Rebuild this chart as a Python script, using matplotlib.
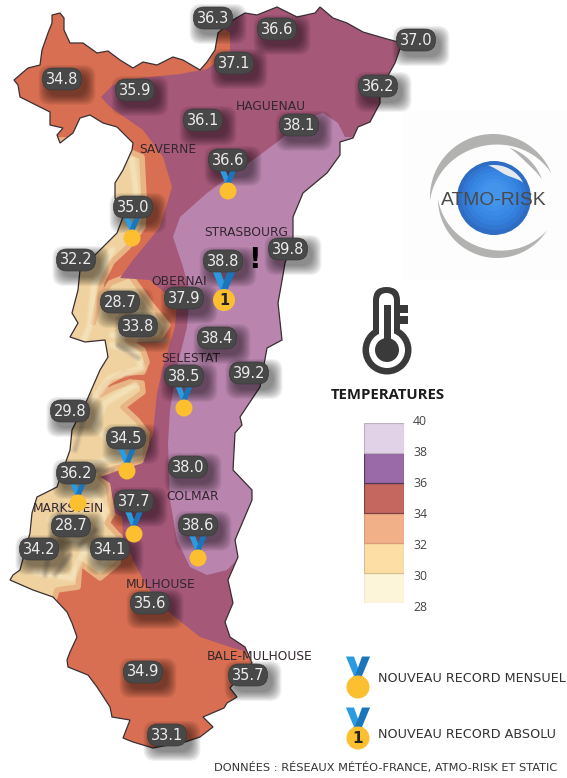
import numpy as np
import matplotlib
matplotlib.use("Agg")
import matplotlib.pyplot as plt
from matplotlib.patches import Polygon, Circle, FancyBboxPatch, Rectangle

values = ["36.3", "36.6", "37.0", "34.8", "35.9", "37.1", "36.2", "36.1", "38.1", "36.6", "35.0",
          "32.2", "38.8", "39.8", "37.9", "28.7", "33.8", "38.4", "39.2", "38.5", "29.8", "34.5",
          "38.0", "36.2", "37.7", "28.7", "38.6", "34.2", "34.1", "35.6", "34.9", "35.7", "33.1"]
values_x = [213, 277, 416, 62, 135, 234, 378, 203, 299, 228, 133, 76, 223, 288, 184, 120, 138, 217,
            249, 184, 70, 126, 188, 76, 134, 71, 198, 39, 110, 150, 143, 248, 167]
values_y = [18, 29, 40, 79, 90, 63, 86, 120, 125, 160, 207, 260, 261, 249, 298, 302, 326, 338,
            373, 376, 411, 438, 467, 473, 501, 526, 525, 549, 549, 603, 672, 675, 735]

cities = ["HAGUENAU", "SAVERNE", "STRASBOURG", "OBERNAI", "SELESTAT", "COLMAR", "MARKSTEIN", "MULHOUSE", "BALE-MULHOUSE"]
cities_x = [271, 168, 246, 179, 191, 193, 68, 161, 260]
cities_y = [106, 149, 232, 281, 358, 496, 509, 584, 657]

# medailles : x, y, record absolu ou non
medals_x = [228, 132, 224, 184, 127, 78, 134, 198]
medals_y = [191, 238, 300, 408, 471, 503, 534, 558]
medals_abs = [False, False, True, False, False, False, False, False]

levels = [28, 30, 32, 34, 36, 38]
level_colors = ["#fdf5da", "#fddfa6", "#f2b088", "#c6675f", "#9a6aa8", "#e1d2e8"]
level_edges = ["#efe8d0", "#d9bf90", "#d99c78", "#7a4444", "#4f3a5c", "#bdb0c5"]
level_ticks = [28, 30, 32, 34, 36, 38, 40]

outline = [(52, 15), (60, 13), (64, 18), (64, 30), (70, 43), (83, 43), (97, 53), (108, 51), (120, 60), (133, 68),
           (143, 62), (157, 65), (173, 57), (183, 60), (200, 70), (207, 62), (215, 50), (218, 33), (233, 20),
           (245, 13), (257, 15), (277, 7), (297, 17), (315, 13), (320, 7), (333, 18), (347, 23), (363, 32),
           (387, 39), (402, 43), (395, 63), (380, 90), (380, 103), (370, 122), (358, 127), (353, 138), (340, 142),
           (340, 155), (327, 173), (303, 193), (293, 217), (293, 240), (285, 263), (283, 275), (278, 303),
           (282, 340), (267, 348), (260, 387), (240, 417), (242, 425), (235, 433), (233, 470), (252, 490),
           (252, 500), (235, 540), (238, 557), (228, 580), (233, 603), (225, 622), (230, 637), (245, 647),
           (252, 663), (230, 688), (237, 697), (227, 703), (224, 708), (203, 717), (213, 727), (200, 737),
           (185, 742), (153, 748), (133, 742), (123, 738), (130, 720), (112, 717), (110, 707), (97, 687),
           (88, 675), (68, 667), (67, 660), (70, 652), (77, 637), (72, 623), (67, 612), (53, 597), (33, 590),
           (10, 580), (13, 575), (20, 570), (30, 533), (32, 513), (37, 497), (57, 487), (70, 450), (72, 430),
           (87, 400), (100, 370), (108, 357), (105, 340), (85, 342), (70, 337), (78, 323), (72, 313), (78, 290),
           (80, 270), (97, 253), (117, 233), (123, 217), (115, 198), (115, 183), (123, 170), (132, 150),
           (133, 143), (117, 127), (103, 123), (90, 115), (80, 118), (73, 133), (60, 143), (57, 135), (63, 128),
           (50, 125), (50, 112), (20, 97), (18, 85), (14, 80), (28, 68), (40, 65), (42, 50), (48, 33), (52, 23)]

zone_tan = [(120, 140), (131, 152), (142, 157), (144, 197), (143, 227), (128, 247), (112, 262), (102, 282), (93, 323),
            (100, 300), (110, 283), (130, 275), (150, 303), (168, 325), (160, 338), (127, 340), (143, 350),
            (147, 362), (143, 372), (125, 373), (107, 383), (100, 395), (113, 388), (130, 382), (142, 383),
            (143, 392), (123, 407), (137, 420), (147, 433), (145, 460), (110, 470), (100, 477), (108, 485),
            (110, 500), (113, 513), (107, 523), (120, 537), (118, 563), (100, 578), (80, 563), (78, 587),
            (57, 590), (53, 603), (0, 600), (0, 140)]

zone_purple = [(101, 97), (113, 85), (140, 78), (180, 74), (207, 69), (230, 52), (230, 33), (223, 28), (225, 0),
               (430, 0), (430, 653), (253, 653), (233, 648), (200, 637), (170, 613), (147, 587), (133, 560),
               (123, 537), (122, 517), (115, 513), (113, 500), (110, 483), (102, 478), (100, 477), (143, 463),
               (153, 433), (157, 393), (163, 367), (175, 327), (177, 303), (150, 280), (120, 278), (133, 260),
               (160, 227), (172, 187), (163, 157), (143, 130), (110, 107)]

zone_light = [(323, 113), (338, 123), (345, 137), (430, 137), (430, 557), (240, 557), (227, 570), (207, 575),
              (190, 567), (177, 540), (170, 500), (168, 443), (170, 410), (177, 367), (187, 327), (190, 293),
              (183, 267), (173, 237), (180, 217), (207, 193), (253, 160), (280, 140), (303, 120)]

# reliefs clairs et sombres des Vosges
ridges_light = [[(132, 160), (136, 190), (134, 222)], [(112, 250), (94, 285), (90, 325), (84, 340)],
                [(115, 305), (135, 310), (155, 325), (145, 335), (112, 335)], [(112, 345), (135, 352), (142, 368), (110, 378), (93, 400)],
                [(135, 385), (105, 403), (95, 425), (120, 455), (90, 465)], [(70, 490), (92, 492), (105, 510), (100, 525)],
                [(50, 520), (85, 548), (72, 578), (35, 572)], [(85, 548), (100, 568), (112, 545)]]
ridges_dark = [[(118, 345), (138, 358)], [(90, 395), (75, 450)], [(62, 505), (52, 535), (45, 575)],
               [(70, 555), (55, 575)], [(95, 530), (80, 545)], [(85, 470), (112, 470)], [(140, 340), (165, 340)]]

BG_ORANGE = "#d86f52"
BG_PURPLE = "#a65879"
BG_LIGHT = "#b985ae"


def add_pill(ax, x, y, label):
    w, h = 39, 22
    for grow in range(9, -1, -1):
        ax.add_patch(FancyBboxPatch((x - w / 2 + 5 - grow, y - h / 2 + 6 - grow), w + 2 * grow, h + 2 * grow,
                                    boxstyle="round,pad=0,rounding_size=11", fc="black", ec="none",
                                    alpha=0.055, zorder=5))
    ax.add_patch(FancyBboxPatch((x - w / 2, y - h / 2), w, h, boxstyle="round,pad=0,rounding_size=10.5",
                                fc="#484848", ec="#3a3a3a", lw=0.5, zorder=7))
    ax.text(x, y, label, color="#ececec", fontsize=10.5, ha="center", va="center",
            family="DejaVu Sans", zorder=8)


def add_medal(ax, x, y, r, absolute=False, z=6):
    top = y - 2.65 * r
    neck = y - 0.85 * r
    ax.add_patch(Polygon([(x - 1.05 * r, top), (x - 0.35 * r, top), (x + 0.3 * r, neck), (x - 0.3 * r, neck)],
                         fc="#2a9be0", ec="none", zorder=z))
    ax.add_patch(Polygon([(x + 1.05 * r, top), (x + 0.35 * r, top), (x - 0.3 * r, neck), (x + 0.3 * r, neck)],
                         fc="#1b75bb", ec="none", zorder=z))
    ax.add_patch(Rectangle((x - 0.45 * r, neck - 0.1 * r), 0.9 * r, 0.4 * r, fc="#e5a823", ec="none", zorder=z))
    ax.add_patch(Circle((x, y), r, fc="#fbbf30", ec="none", zorder=z))
    if absolute:
        ax.text(x, y + 0.5, "1", color="#222222", fontsize=r * 0.95, fontweight="bold", ha="center", va="center",
                family="DejaVu Sans", zorder=z + 0.1)


def crescent(cx, cy, r, t0, t1, width):
    t = np.radians(np.linspace(t0, t1, 80))
    prof = np.sin(np.linspace(0, np.pi, 80)) * width
    outer = np.c_[cx + r * np.cos(t), cy - r * np.sin(t)]
    inner = np.c_[cx + (r - prof) * np.cos(t), cy - (r - prof) * np.sin(t)]
    return np.vstack([outer, inner[::-1]])


fig = plt.figure(figsize=(5.67, 7.78), dpi=100)
ax = fig.add_axes([0, 0, 1, 1])
ax.set_xlim(0, 567)
ax.set_ylim(778, 0)
ax.axis("off")

# carte
base = Polygon(outline, closed=True, fc=BG_ORANGE, ec="none", zorder=1)
ax.add_patch(base)
layers = [Polygon(zone_tan, closed=True, fc="#efd2a0", ec="#e9b483", lw=4, zorder=1.2, joinstyle="round"),
          Polygon(zone_purple, closed=True, fc=BG_PURPLE, ec="none", zorder=1.6),
          Polygon(zone_light, closed=True, fc=BG_LIGHT, ec="none", zorder=1.8)]
for p in layers:
    ax.add_patch(p)
    p.set_clip_path(base)
for line in ridges_light:
    xs, ys = zip(*line)
    for lw, a in [(6, 0.3), (3.5, 0.5)]:
        l, = ax.plot(xs, ys, color="#f6e8c2", lw=lw, alpha=a, zorder=1.3, solid_capstyle="round")
        l.set_clip_path(base)
for line in ridges_dark:
    xs, ys = zip(*line)
    for lw, a in [(5, 0.2), (2.5, 0.35)]:
        l, = ax.plot(xs, ys, color="#a39380", lw=lw, alpha=a, zorder=1.35, solid_capstyle="round")
        l.set_clip_path(base)
ax.add_patch(Polygon(outline, closed=True, fc="none", ec="#3a3034", lw=0.9, zorder=2.5))

for name, x, y in zip(cities, cities_x, cities_y):
    ax.text(x, y, name, color="#33262f", fontsize=8.8, ha="center", va="center", family="DejaVu Sans", zorder=3)

for x, y, a in zip(medals_x, medals_y, medals_abs):
    add_medal(ax, x, y, 11 if a else 8.5, a)

for label, x, y in zip(values, values_x, values_y):
    add_pill(ax, x, y, label)

ax.text(254, 260, "!", color="black", fontsize=20, fontweight="bold", ha="center", va="center",
        family="DejaVu Sans", zorder=9)

# logo
ax.add_patch(Rectangle((403, 110), 164, 170, fc="#fdfdfd", ec="none", zorder=0.2))
ax.add_patch(Polygon(crescent(493, 197, 63, 22, 183, 11), fc="#b2b2b0", ec="none", zorder=3))
ax.add_patch(Polygon(crescent(497, 199, 59, 180, 328, 8), fc="#b2b2b0", ec="none", zorder=3))
ax.add_patch(Polygon(crescent(493, 197, 52, 20, 72, 4), fc="#b2b2b0", ec="none", zorder=3))
sphere_colors = ["#2f6cc4", "#3176d0", "#347fdb", "#3786e2", "#3b8be6", "#3f90ea", "#4494ec"]
for k, c in zip(np.linspace(37, 12, len(sphere_colors)), sphere_colors):
    ax.add_patch(Circle((494, 198 - (37 - k) * 0.15), k, fc=c, ec="none", zorder=3.2))
ax.add_patch(Polygon(crescent(494, 198, 33, 28, 100, 7), fc="#e6e9ee", ec="none", zorder=3.4))
ax.text(494, 200, "ATMO-RISK", color="#4a4a4a", fontsize=13.9, ha="center", va="center",
        family="Liberation Sans", zorder=3.6)

# thermometre
DARK = "#3a3a3a"
ax.add_patch(FancyBboxPatch((373, 287), 27, 60, boxstyle="round,pad=0,rounding_size=13.5", fc=DARK, ec="none", zorder=3))
ax.add_patch(Circle((387, 350), 24.5, fc=DARK, ec="none", zorder=3))
ax.add_patch(Rectangle((400, 305), 7.5, 8, fc=DARK, ec="none", zorder=3))
ax.add_patch(Rectangle((400, 316), 7.5, 8, fc=DARK, ec="none", zorder=3))
ax.add_patch(FancyBboxPatch((379, 293), 15, 50, boxstyle="round,pad=0,rounding_size=7.5", fc="white", ec="none", zorder=3.1))
ax.add_patch(Circle((387, 350), 18, fc="white", ec="none", zorder=3.1))
ax.add_patch(Rectangle((383.5, 305), 7, 40, fc=DARK, ec="none", zorder=3.2))
ax.add_patch(Circle((387, 350), 12, fc=DARK, ec="none", zorder=3.2))

ax.text(388, 395, "TEMPERATURES", color="#1c1c1c", fontsize=10.7, fontweight="bold", ha="center", va="center",
        family="Open Sans")

# echelle de couleur
leg = fig.add_axes([364 / 567, 1 - 603.3 / 778, 40 / 567, (603.3 - 422.7) / 778])
leg.bar([0] * len(levels), [2] * len(levels), bottom=levels, width=1, color=level_colors,
        edgecolor=level_edges, linewidth=0.9)
leg.set_xlim(-0.5, 0.5)
leg.set_ylim(28, 40)
leg.axis("off")
for v in level_ticks:
    ax.text(413, 421.7 + (40 - v) * 15.5, str(v), color="#444444", fontsize=8.8, ha="left", va="center",
            family="Open Sans")

# legende medailles
add_medal(ax, 358, 687, 11.5)
add_medal(ax, 358, 738, 11.5, True)
ax.text(378, 679, "NOUVEAU RECORD MENSUEL", color="#333333", fontsize=9.2, ha="left", va="center", family="DejaVu Sans")
ax.text(378, 735, "NOUVEAU RECORD ABSOLU", color="#333333", fontsize=9.2, ha="left", va="center", family="DejaVu Sans")
ax.text(214, 768, "DONNÉES : RÉSEAUX MÉTÉO-FRANCE, ATMO-RISK ET STATIC", color="#333333", fontsize=8.2, ha="left",
        va="center", family="DejaVu Sans")

fig.savefig("out.png", dpi=100)
